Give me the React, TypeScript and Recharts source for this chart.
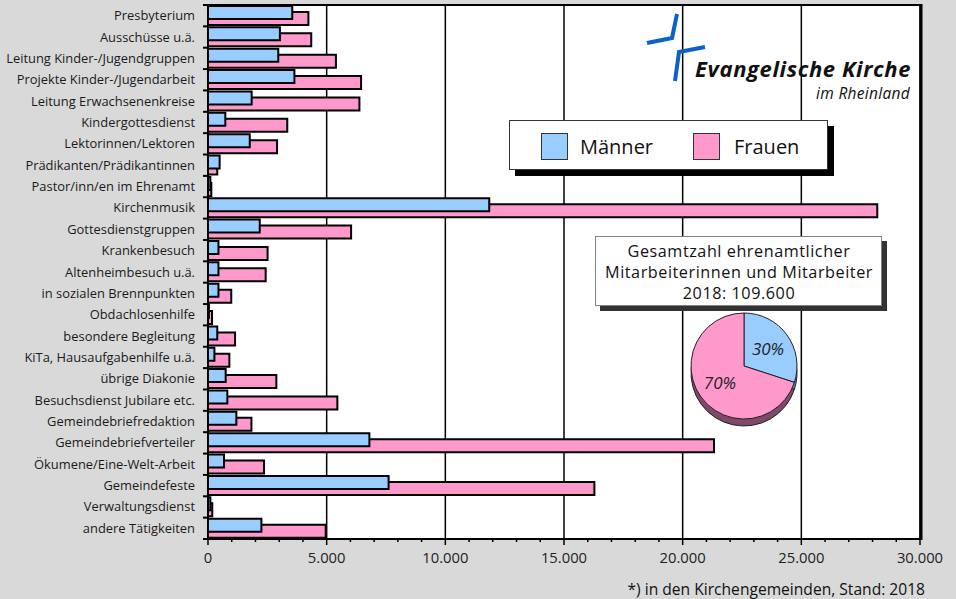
import { Bar, BarChart, CartesianGrid, Cell, Legend, Pie, PieChart, XAxis, YAxis } from 'recharts'

const FONT = '"Open Sans", "Noto Sans", sans-serif'

const categories = [
  'Presbyterium',
  'Ausschüsse u.ä.',
  'Leitung Kinder-/Jugendgruppen',
  'Projekte Kinder-/Jugendarbeit',
  'Leitung Erwachsenenkreise',
  'Kindergottesdienst',
  'Lektorinnen/Lektoren',
  'Prädikanten/Prädikantinnen',
  'Pastor/inn/en im Ehrenamt',
  'Kirchenmusik',
  'Gottesdienstgruppen',
  'Krankenbesuch',
  'Altenheimbesuch u.ä.',
  'in sozialen Brennpunkten',
  'Obdachlosenhilfe',
  'besondere Begleitung',
  'KiTa, Hausaufgabenhilfe u.ä.',
  'übrige Diakonie',
  'Besuchsdienst Jubilare etc.',
  'Gemeindebriefredaktion',
  'Gemeindebriefverteiler',
  'Ökumene/Eine-Welt-Arbeit',
  'Gemeindefeste',
  'Verwaltungsdienst',
  'andere Tätigkeiten',
]

const maenner = [
  3550, 3030, 2960, 3640, 1840, 730, 1760, 490, 100, 11850, 2180, 440, 440, 440, 40, 390, 270,
  745, 815, 1195, 6800, 675, 7610, 100, 2250,
]

const frauen = [
  4230, 4350, 5390, 6450, 6380, 3340, 2910, 390, 140, 28200, 6030, 2510, 2430, 980, 170, 1140,
  900, 2880, 5450, 1830, 21320, 2360, 16280, 180, 4960,
]

const majorTicks = [0, 5000, 10000, 15000, 20000, 25000, 30000]
const minorTicks = Array.from({ length: 31 }, (_, i) => i * 1000)

const pieNames = ['Männer', 'Frauen']
const pieShares = [30, 70]

const BLUE = '#99ccff'
const PINK = '#ff99cc'
const PLOT_TOP = 5
const PLOT_BOTTOM = 539
const BAND = (PLOT_BOTTOM - PLOT_TOP) / categories.length

const data = categories.map((name, i) => ({ name, maenner: maenner[i], frauen: frauen[i] }))
const pieData = pieNames.map((name, i) => ({ name, value: pieShares[i] }))

const fmt = (v: number) => v.toLocaleString('de-DE')

function XTick(props: any) {
  const { x, y, payload } = props
  const axisY = y - 8
  const major = payload.value % 5000 === 0
  return (
    <g>
      <line x1={x} x2={x} y1={axisY} y2={axisY + (major ? 6 : 3)} stroke="#000" strokeWidth={1.5} />
      {major ? (
        <text x={x} y={axisY + 24} textAnchor="middle" fontSize={14.8} fill="#222" fontFamily={FONT}>
          {fmt(payload.value)}
        </text>
      ) : null}
    </g>
  )
}

function YTick(props: any) {
  const { x, y, payload, index } = props
  const axisX = x + 13
  return (
    <g>
      <text x={x} y={y} dy="0.35em" textAnchor="end" fontSize={12.9} fill="#1a1a1a" fontFamily={FONT}>
        {payload.value}
      </text>
      <line x1={axisX - 5} x2={axisX} y1={y - BAND / 2} y2={y - BAND / 2} stroke="#000" strokeWidth={2} />
      {index === categories.length - 1 ? (
        <line x1={axisX - 5} x2={axisX} y1={y + BAND / 2} y2={y + BAND / 2} stroke="#000" strokeWidth={2} />
      ) : null}
    </g>
  )
}

function LegendBox(props: any) {
  const items = [...(props.payload ?? [])].reverse()
  return (
    <div style={{ position: 'relative', width: 319, height: 50 }}>
      <div style={{ position: 'absolute', left: 6, top: 6, width: 319, height: 50, background: '#000' }} />
      <div
        style={{
          position: 'absolute', left: 0, top: 0, width: 317, height: 48,
          background: '#fff', border: '1px solid #333',
        }}
      >
        {items.map((it: any, i: number) => (
          <div key={it.value} style={{ position: 'absolute', left: 31 + i * 152, top: 12, display: 'flex', alignItems: 'center' }}>
            <div style={{ width: 25, height: 25, background: it.color, border: '1px solid #333' }} />
            <span style={{ marginLeft: i === 0 ? 12 : 14, fontSize: 20, color: '#111', fontFamily: FONT }}>{it.value}</span>
          </div>
        ))}
      </div>
    </div>
  )
}

const RADIAN = Math.PI / 180
function pieLabel(p: any) {
  const r = p.outerRadius * 0.56
  const x = p.cx + r * Math.cos(-p.midAngle * RADIAN)
  const y = p.cy + r * Math.sin(-p.midAngle * RADIAN)
  return (
    <text x={x} y={y} dy="0.35em" textAnchor="middle" fontSize={17} fontStyle="italic" fill="#222" fontFamily={FONT}>
      {`${p.value}%`}
    </text>
  )
}

export default function App() {
  return (
    <div
      style={{
        position: 'absolute', left: 0, top: 0, width: 956, height: 599,
        background: '#d9d9d9', overflow: 'hidden', fontFamily: FONT,
      }}
    >
      <BarChart
        width={956}
        height={599}
        data={data}
        layout="vertical"
        margin={{ top: PLOT_TOP, right: 36, bottom: 0, left: 0 }}
        barSize={13}
        barGap={-19}
      >
        <CartesianGrid fill="#fff" stroke="#000" strokeWidth={1.5} horizontal={false} verticalValues={majorTicks} />
        <XAxis
          type="number"
          domain={[0, 30000]}
          ticks={minorTicks}
          interval={0}
          height={60}
          axisLine={{ stroke: '#000', strokeWidth: 2 }}
          tickLine={false}
          tickSize={6}
          tickMargin={2}
          tick={XTick}
        />
        <YAxis
          type="category"
          dataKey="name"
          width={208}
          interval={0}
          axisLine={{ stroke: '#000', strokeWidth: 2 }}
          tickLine={false}
          tickSize={5}
          tickMargin={8}
          tick={YTick}
        />
        <Bar dataKey="frauen" name="Frauen" fill={PINK} stroke="#000" strokeWidth={2} isAnimationActive={false} />
        <Bar dataKey="maenner" name="Männer" fill={BLUE} stroke="#000" strokeWidth={2} isAnimationActive={false} />
        <Legend
          layout="horizontal"
          verticalAlign="middle"
          align="center"
          content={LegendBox}
          wrapperStyle={{ position: 'absolute', left: 509, top: 120, width: 325, height: 56 }}
        />
      </BarChart>

      <svg width={956} height={599} style={{ position: 'absolute', left: 0, top: 0, pointerEvents: 'none' }}>
        <line x1={207} x2={921} y1={5} y2={5} stroke="#000" strokeWidth={2} />
        <line x1={921} x2={921} y1={4} y2={540} stroke="#000" strokeWidth={3} />
        <g stroke="#0a64c8" strokeWidth={4} fill="none">
          <polyline points="677,14 672,38 647,43" />
          <polyline points="705,47 679,52 675,81" />
        </g>
        <text x={911} y={77} textAnchor="end" fontSize={22} letterSpacing={0.6} fontWeight="bold" fontStyle="italic" fill="#111" fontFamily={FONT}>
          Evangelische Kirche
        </text>
        <text x={910} y={99} textAnchor="end" fontSize={15.5} letterSpacing={0.3} fontStyle="italic" fill="#111" fontFamily={FONT}>
          im Rheinland
        </text>
        <rect x={600} y={241} width={287} height={70} fill="#333" />
        <rect x={595.5} y={236.5} width={286} height={69} fill="#fff" stroke="#808080" />
        <g fontSize={16.2} letterSpacing={0.55} fill="#111" textAnchor="middle" fontFamily={FONT}>
          <text x={739} y={256.5}>Gesamtzahl ehrenamtlicher</text>
          <text x={739} y={278}>Mitarbeiterinnen und Mitarbeiter</text>
          <text x={739} y={299}>2018: 109.600</text>
        </g>
        <text x={925} y={595} textAnchor="end" fontSize={15.6} fill="#111" fontFamily={FONT}>
          *) in den Kirchengemeinden, Stand: 2018
        </text>
      </svg>

      <div style={{ position: 'absolute', left: 680, top: 305 }}>
        <PieChart width={130} height={135} margin={{ top: 0, right: 0, bottom: 0, left: 0 }}>
          <Pie
            data={pieData}
            dataKey="value"
            cx={64}
            cy={68}
            outerRadius={53}
            startAngle={90}
            endAngle={-270}
            stroke="#222"
            strokeWidth={1}
            isAnimationActive={false}
          >
            <Cell fill="#5a7ea8" />
            <Cell fill="#7d4a6c" />
          </Pie>
          <Pie
            data={pieData}
            dataKey="value"
            cx={64}
            cy={61}
            outerRadius={53}
            startAngle={90}
            endAngle={-270}
            stroke="#222"
            strokeWidth={1}
            label={pieLabel}
            labelLine={false}
            isAnimationActive={false}
          >
            <Cell fill={BLUE} />
            <Cell fill={PINK} />
          </Pie>
        </PieChart>
      </div>
    </div>
  )
}
